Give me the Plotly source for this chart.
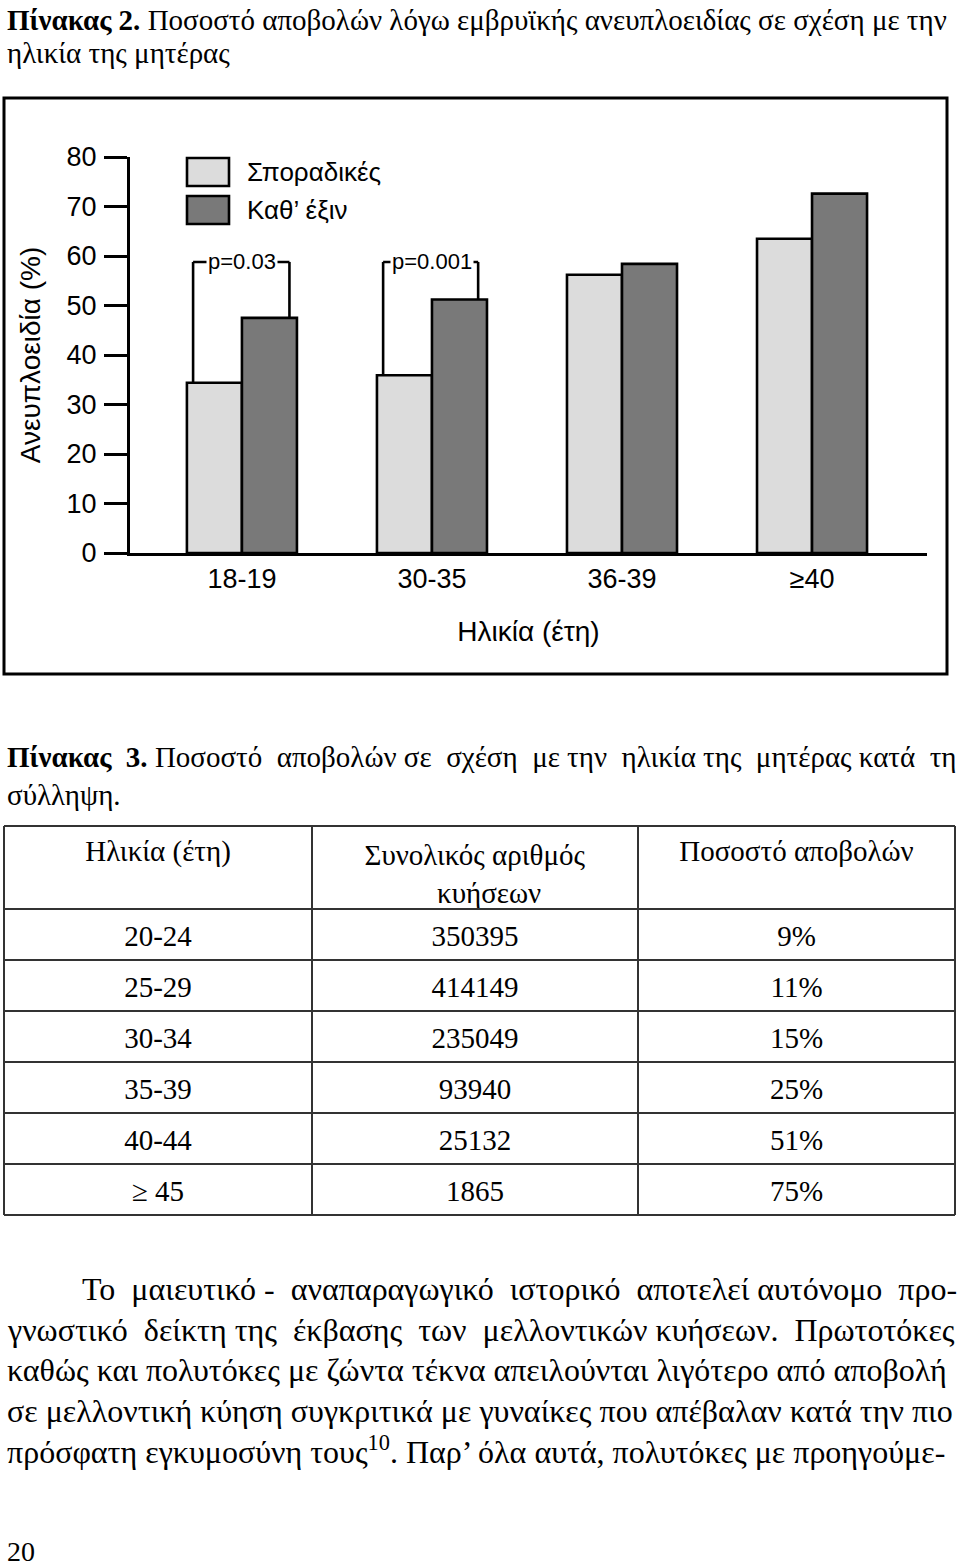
import plotly.graph_objects as go

# ---------------- data ----------------
age_groups = ["18-19", "30-35", "36-39", "≥40"]
sporadic = [34.4, 35.9, 56.2, 63.5]
recurrent = [47.5, 51.2, 58.4, 72.6]
series_names = ["Σποραδικές", "Καθ’ έξιν"]
p_values = ["p=0.03", "p=0.001"]
p_groups = [0, 1]
y_ticks = [0, 10, 20, 30, 40, 50, 60, 70, 80]

table_header = ["Ηλικία (έτη)", "Συνολικός αριθμός<br>" + "\u00a0" * 10 + "κυήσεων", "Ποσοστό αποβολών"]
table_ages = ["20-24", "25-29", "30-34", "35-39", "40-44", "≥ 45"]
table_pregnancies = [350395, 414149, 235049, 93940, 25132, 1865]
table_loss_rate = [9, 11, 15, 25, 51, 75]

W, H = 960, 1566
LIGHT = "#dcdcdc"
DARK = "#797979"
SANS = "Liberation Sans, Arial, sans-serif"
NARROW = "Liberation Sans Narrow, Arial Narrow, Liberation Sans, sans-serif"
SERIF = "Liberation Serif, Times New Roman, serif"
NBSP = "\u00a0"


def py(px):  # page pixel (from top) -> paper y
    return 1 - px / H


def px_(x):  # page pixel -> paper x
    return x / W


def justify(line, extra):
    """spread `extra` non-breaking spaces evenly over the gaps of a line"""
    words = line.split(" ")
    gaps = len(words) - 1
    out = words[0]
    for i in range(gaps):
        n = ((i + 1) * extra + gaps // 2) // gaps - (i * extra + gaps // 2) // gaps
        out += " " + NBSP * n + words[i + 1]
    return out


fig = go.Figure()

fig.add_trace(go.Bar(x=age_groups, y=sporadic, name=series_names[0],
                     marker=dict(color=LIGHT, line=dict(color="black", width=2.6)),
                     showlegend=False))
fig.add_trace(go.Bar(x=age_groups, y=recurrent, name=series_names[1],
                     marker=dict(color=DARK, line=dict(color="black", width=2.6)),
                     showlegend=False))

# table (grid lines are drawn as shapes below so the text can sit centred)
TAB_TOP, HEAD_H, ROW_H = 826, 83, 51
TAB_X = [4, 312, 638, 955]
SHIFT = 5
fig.add_trace(go.Table(
    domain=dict(x=[px_(TAB_X[0]), px_(TAB_X[-1])],
                y=[py(TAB_TOP + SHIFT + HEAD_H + 6 * ROW_H + 20), py(TAB_TOP + SHIFT)]),
    columnwidth=[TAB_X[1] - TAB_X[0], TAB_X[2] - TAB_X[1], TAB_X[3] - TAB_X[2]],
    header=dict(values=table_header, height=HEAD_H, align="center",
                fill_color="rgba(0,0,0,0)", line=dict(color="rgba(0,0,0,0)", width=0),
                font=dict(family=SERIF, size=29, color="black")),
    cells=dict(values=[table_ages, table_pregnancies, table_loss_rate],
               suffix=[None, None, "%"], height=ROW_H, align="center",
               fill_color="rgba(0,0,0,0)", line=dict(color="rgba(0,0,0,0)", width=0),
               font=dict(family=SERIF, size=29, color="black")),
))

fig.update_layout(
    width=W, height=H, margin=dict(l=0, r=0, t=0, b=0, pad=0, autoexpand=False),
    paper_bgcolor="white", plot_bgcolor="white",
    barmode="group", bargap=0.421, bargroupgap=0,
    xaxis=dict(domain=[px_(130), px_(927)], range=[-0.589, 3.605], automargin=False,
               showline=True, linecolor="black", linewidth=3, ticks="",
               showgrid=False, zeroline=False, ticklabelstandoff=0,
               tickfont=dict(family=SANS, size=27, color="black"),
               title=dict(text="Ηλικία (έτη)", standoff=28,
                          font=dict(family=SANS, size=28, color="black"))),
    yaxis=dict(domain=[py(553), py(157)], range=[0, 80], tickvals=y_ticks, automargin=False,
               showline=True, linecolor="black", linewidth=3, ticks="outside",
               ticklen=23, tickwidth=3, tickcolor="black",
               showgrid=False, zeroline=False, ticklabelstandoff=2,
               tickfont=dict(family=SANS, size=27, color="black"),
               title=dict(text="Ανευπλοειδία (%)", standoff=18,
                          font=dict(family=SANS, size=28, color="black"))),
)

shapes = []
annotations = []

# outer frame of the chart
shapes.append(dict(type="rect", xref="paper", yref="paper",
                   x0=px_(4), x1=px_(947), y0=py(98), y1=py(674),
                   line=dict(color="black", width=3)))

# legend (drawn manually)
for i, (name, col) in enumerate(zip(series_names, [LIGHT, DARK])):
    top = 158 + i * 38
    shapes.append(dict(type="rect", xref="paper", yref="paper",
                       x0=px_(187), x1=px_(229), y0=py(top), y1=py(top + 28),
                       fillcolor=col, line=dict(color="black", width=2.6)))
    annotations.append(dict(xref="paper", yref="paper", x=px_(245), y=py(top + 14),
                            xanchor="left", yanchor="middle", text=name, showarrow=False,
                            font=dict(family=SANS, size=26, color="black")))

# significance brackets
BRACKET_Y = 58.8
for g, ptxt in zip(p_groups, p_values):
    xl = g - 0.257
    xr = g + 0.25 if g == 0 else g + 0.243
    shapes.append(dict(type="line", xref="x", yref="y", x0=xl, x1=xl,
                       y0=sporadic[g], y1=BRACKET_Y, line=dict(color="black", width=2.6)))
    shapes.append(dict(type="line", xref="x", yref="y", x0=xr, x1=xr,
                       y0=recurrent[g], y1=BRACKET_Y, line=dict(color="black", width=2.6)))
    shapes.append(dict(type="line", xref="x", yref="y", x0=xl, x1=xr,
                       y0=BRACKET_Y, y1=BRACKET_Y, line=dict(color="black", width=2.6)))
    annotations.append(dict(xref="x", yref="y", x=g, y=BRACKET_Y, text=ptxt,
                            showarrow=False, bgcolor="white", borderpad=1,
                            xanchor="center", yanchor="middle",
                            font=dict(family=NARROW, size=22, color="black")))

# table grid lines
TAB_BOTTOM = TAB_TOP + HEAD_H + 6 * ROW_H
row_lines = [TAB_TOP, TAB_TOP + HEAD_H] + [TAB_TOP + HEAD_H + ROW_H * (k + 1) for k in range(6)]
for yl in row_lines:
    shapes.append(dict(type="line", xref="paper", yref="paper",
                       x0=px_(TAB_X[0]), x1=px_(TAB_X[-1]), y0=py(yl), y1=py(yl),
                       line=dict(color="#333", width=2)))
for xl in TAB_X:
    shapes.append(dict(type="line", xref="paper", yref="paper",
                       x0=px_(xl), x1=px_(xl), y0=py(TAB_TOP), y1=py(TAB_BOTTOM),
                       line=dict(color="#333", width=2)))

# page text
text_lines = [
    (5, 20, "<b>Πίνακας 2.</b> Ποσοστό αποβολών λόγω εμβρυϊκής ανευπλοειδίας σε σχέση με την", 29),
    (5, 53, "ηλικία της μητέρας", 29),
    (5, 757, justify("<b>Πίνακας 3.</b> Ποσοστό αποβολών σε σχέση με την ηλικία της μητέρας κατά τη", 7), 29),
    (5, 795, "σύλληψη.", 29),
    (80, 1289, justify("Το μαιευτικό - αναπαραγωγικό ιστορικό αποτελεί αυτόνομο προ-", 5), 32),
    (5, 1330, justify("γνωστικό δείκτη της έκβασης των μελλοντικών κυήσεων. Πρωτοτόκες", 5), 32),
    (5, 1370, "καθώς και πολυτόκες με ζώντα τέκνα απειλούνται λιγότερο από αποβολή", 32),
    (5, 1411, "σε μελλοντική κύηση συγκριτικά με γυναίκες που απέβαλαν κατά την πιο", 32),
    (5, 1450, "πρόσφατη εγκυμοσύνη τους<sup>10</sup>. Παρ’ όλα αυτά, πολυτόκες με προηγούμε-", 32),
    (5, 1551, "20", 28),
]
for x, y, t, s in text_lines:
    annotations.append(dict(xref="paper", yref="paper", x=px_(x), y=py(y),
                            xanchor="left", yanchor="middle", text=t, showarrow=False,
                            font=dict(family=SERIF, size=s, color="black")))

fig.update_layout(shapes=shapes, annotations=annotations)
fig.write_html("out.html")
